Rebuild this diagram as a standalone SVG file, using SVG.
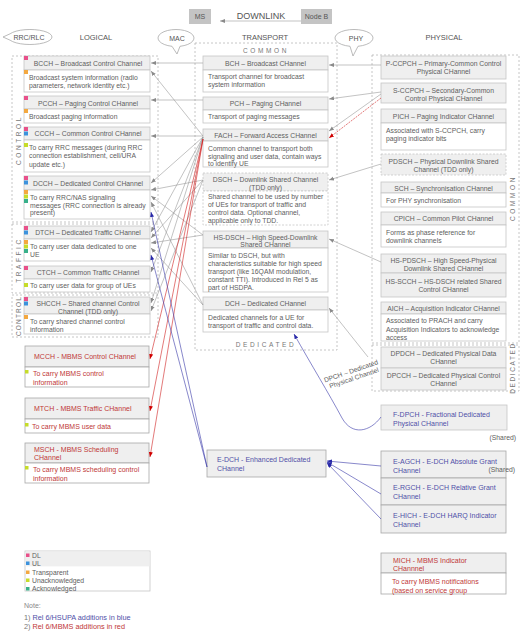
<svg xmlns="http://www.w3.org/2000/svg" width="524" height="640" viewBox="0 0 524 640">
<defs>
<style>
.t{font-family:"Liberation Sans",Arial,sans-serif;font-size:6.8px;fill:#606060}
.m{text-anchor:middle}
.e{text-anchor:end}
.ti{font-size:7.5px;fill:#555}
.hd{fill:#efefef;stroke:#c6c6c6;stroke-width:0.8}
.bd{fill:#fff;stroke:#c6c6c6;stroke-width:0.8}
.hm{fill:#efefef;stroke:#a8a8a8;stroke-width:0.8}
.bm{fill:#fff;stroke:#a8a8a8;stroke-width:0.8}
.dsh{stroke-dasharray:2 1.5}
.grp{fill:none;stroke:#b8b8b8;stroke-width:0.8;stroke-dasharray:2 2}
.vl{font-family:"Liberation Sans",Arial,sans-serif;font-size:6.5px;fill:#777;letter-spacing:2.6px;text-anchor:middle}
.bl{fill:#5050a8;font-size:7px}
.rd{fill:#c03838;font-size:7px}
.cg{fill:none;stroke:#9a9a9a;stroke-width:0.6;marker-end:url(#ag)}
.cr{fill:none;stroke:#d02020;stroke-width:0.6;marker-end:url(#ar)}
.cb{fill:none;stroke:#3838a8;stroke-width:0.6;marker-end:url(#ab)}
.bub{fill:#fff;stroke:#aaa;stroke-width:0.8}
.dl{fill:#e8508a}.ul{fill:#3c92dc}.tr{fill:#f3a840}.un{fill:#c6dc2a}.ak{fill:#38b08a}
</style>
<marker id="ag" markerUnits="userSpaceOnUse" markerWidth="6" markerHeight="5" refX="5" refY="2" orient="auto"><path d="M0,0 L5,2 L0,4 z" fill="#8a8a8a"/></marker>
<marker id="ar" markerUnits="userSpaceOnUse" markerWidth="6" markerHeight="5" refX="5" refY="2" orient="auto"><path d="M0,0 L5,2 L0,4 z" fill="#d00000"/></marker>
<marker id="ab" markerUnits="userSpaceOnUse" markerWidth="6" markerHeight="5" refX="5" refY="2" orient="auto"><path d="M0,0 L5,2 L0,4 z" fill="#2828a8"/></marker>
</defs>
<rect width="524" height="640" fill="#fff"/>

<g id="header">
<rect x="189" y="9" width="22" height="15" fill="#c4c4c4"/>
<text class="t m" x="200" y="19" style="font-size:7px;fill:#555">MS</text>
<rect x="301" y="9" width="31" height="15" fill="#c4c4c4"/>
<text class="t m" x="316.5" y="19" style="font-size:7px;fill:#555">Node B</text>
<text class="t m" x="261" y="19" style="font-size:9px;fill:#555">DOWNLINK</text>
<line x1="301" y1="21" x2="220" y2="21" class="cg"/>
<text class="t ti m" x="96" y="40">LOGICAL</text>
<text class="t ti m" x="265" y="40">TRANSPORT</text>
<text class="t ti m" x="444" y="40">PHYSICAL</text>
</g>

<g id="bubbles">
<path class="bub" d="M10.1,33.8 A22,7.5 0 1 1 10.1,40.2 L3,37 Z"/>
<text class="t m" x="29" y="39.5" style="font-size:7px;fill:#555">RRC/RLC</text>
<path class="bub" d="M180,46.3 A18,8.5 0 1 0 172,46.3 L177,54 Z"/>
<text class="t m" x="177" y="40.5" style="font-size:7px;fill:#555">MAC</text>
<path class="bub" d="M358,46.3 A19,8.5 0 1 0 350,46.3 L353,56 Z"/>
<text class="t m" x="356" y="40.5" style="font-size:7px;fill:#555">PHY</text>
</g>

<g id="groups">
<rect class="grp" x="12" y="56" width="146" height="166"/>
<rect class="grp" x="12" y="224" width="146" height="69"/>
<rect class="grp" x="12" y="295" width="146" height="42"/>
<text class="vl" transform="translate(21,140) rotate(-90)">CONTROL</text>
<text class="vl" transform="translate(21,260) rotate(-90)">TRAFFIC</text>
<text class="vl" style="letter-spacing:1.2px" transform="translate(21,316) rotate(-90)">CONTROL</text>
<rect class="grp" x="195" y="43" width="142" height="307"/>
<text class="vl" x="266" y="52.5">COMMON</text>
<text class="vl" x="266" y="347">DEDICATED</text>
<rect class="grp" x="372" y="55" width="147" height="288"/>
<rect class="grp" x="372" y="345" width="147" height="46"/>
<text class="vl" transform="translate(514.5,198) rotate(-90)">COMMON</text>
<text class="vl" style="letter-spacing:1.6px" transform="translate(514.5,368) rotate(-90)">DEDICATED</text>
</g>

<g id="bcch">
<rect class="hd" x="24" y="56" width="126" height="14"/><rect class="bd" x="24" y="70" width="126" height="22"/>
<rect class="dl" x="24" y="56" width="4" height="4"/><rect class="tr" x="24" y="70" width="4" height="4"/>
<text class="t m" x="88" y="65.5">BCCH – Broadcast Control Channel</text>
<text class="t" x="29" y="79.5">Broadcast system information (radio</text>
<text class="t" x="29" y="87.5">parameters, network identity etc.)</text>
</g>
<g id="pcch">
<rect class="hd" x="24" y="96" width="126" height="13"/><rect class="bd" x="24" y="109" width="126" height="14"/>
<rect class="dl" x="24" y="96" width="4" height="4"/><rect class="tr" x="24" y="109" width="4" height="4"/>
<text class="t m" x="88" y="105.5">PCCH – Paging Control CHannel</text>
<text class="t" x="29" y="118.5">Broadcast paging information</text>
</g>
<g id="ccch">
<rect class="hd" x="24" y="127" width="126" height="13"/><rect class="bd" x="24" y="140" width="126" height="32"/>
<rect class="dl" x="24" y="127" width="4" height="4"/><rect class="ul" x="24" y="131.5" width="4" height="4"/><rect class="un" x="24" y="143" width="4" height="4"/>
<text class="t m" x="88" y="136">CCCH – Common Control CHannel</text>
<text class="t" x="29" y="149.5">To carry RRC  messages (during RRC</text>
<text class="t" x="29" y="158">connection establishment, cell/URA</text>
<text class="t" x="29" y="166.5">update etc.)</text>
</g>
<g id="dcch">
<rect class="hd" x="24" y="176" width="126" height="14"/><rect class="bd" x="24" y="190" width="126" height="29"/>
<rect class="dl" x="24" y="176" width="4" height="4"/><rect class="ul" x="24" y="180.5" width="4" height="4"/>
<rect class="tr" x="24" y="190" width="4" height="4"/><rect class="un" x="24" y="194.5" width="4" height="4"/><rect class="ak" x="24" y="199" width="4" height="4"/>
<text class="t m" x="88" y="185.5">DCCH – Dedicated Control CHannel</text>
<text class="t" x="30" y="199.5">To carry RRC/NAS  signaling</text>
<text class="t" x="30" y="207.5">messages (RRC connection is already</text>
<text class="t" x="30" y="215">present)</text>
</g>
<g id="dtch">
<rect class="hd" x="24" y="226" width="126" height="13"/><rect class="bd" x="24" y="239" width="126" height="22"/>
<rect class="dl" x="24" y="226" width="4" height="4"/><rect class="ul" x="24" y="230.5" width="4" height="4"/>
<rect class="tr" x="24" y="240" width="4" height="4"/><rect class="un" x="24" y="244.5" width="4" height="4"/><rect class="ak" x="24" y="249" width="4" height="4"/>
<text class="t m" x="88" y="235">DTCH – Dedicated Traffic CHannel</text>
<text class="t" x="30" y="248.5">To carry user data dedicated to one</text>
<text class="t" x="30" y="256.5">UE</text>
</g>
<g id="ctch">
<rect class="hd" x="24" y="266" width="126" height="13"/><rect class="bd" x="24" y="279" width="126" height="13"/>
<rect class="dl" x="24" y="266" width="4" height="4"/><rect class="un" x="24" y="283" width="4" height="4"/>
<text class="t m" x="88" y="275">CTCH – Common Traffic CHannel</text>
<text class="t" x="30" y="288">To carry user data for group of UEs</text>
</g>
<g id="shcch">
<rect class="hd" x="24" y="297" width="126" height="17"/><rect class="bd" x="24" y="314" width="126" height="20"/>
<rect class="dl" x="24" y="297" width="4" height="4"/><rect class="ul" x="24" y="301.5" width="4" height="4"/><rect class="tr" x="24" y="315" width="4" height="4"/>
<text class="t m" x="88" y="305.5">SHCCH – Shared channel Control</text>
<text class="t m" x="88" y="313.5">Channel (TDD only)</text>
<text class="t" x="30" y="323.5">To carry shared channel control</text>
<text class="t" x="30" y="331.5">information</text>
</g>
<g id="mcch">
<rect class="hm" x="25" y="346" width="124" height="21"/><rect class="bm" x="25" y="367" width="124" height="20"/>
<rect class="un" x="25" y="370" width="3.5" height="3.5"/>
<text class="t rd" x="34" y="358.5">MCCH - MBMS Control CHannel</text>
<text class="t rd" x="33" y="375.5">To carry MBMS control</text>
<text class="t rd" x="33" y="384.5">information</text>
</g>
<g id="mtch">
<rect class="hm" x="25" y="398" width="124" height="21"/><rect class="bm" x="25" y="419" width="124" height="14"/>
<rect class="un" x="25" y="423" width="3.5" height="3.5"/>
<text class="t rd" x="34" y="410.5">MTCH - MBMS Traffic CHannel</text>
<text class="t rd" x="32" y="429">To carry MBMS user data</text>
</g>
<g id="msch">
<rect class="hm" x="25" y="443" width="124" height="20"/><rect class="bm" x="25" y="463" width="124" height="20"/>
<rect class="un" x="25" y="466" width="3.5" height="3.5"/>
<text class="t rd" x="34" y="451.5">MSCH - MBMS Scheduling</text>
<text class="t rd" x="34" y="459.5">CHannel</text>
<text class="t rd" x="33" y="471.5">To carry MBMS scheduling control</text>
<text class="t rd" x="33" y="480.5">information</text>
</g>

<g id="bch">
<rect class="hd" x="203" y="56" width="125" height="14"/><rect class="bd" x="203" y="70" width="125" height="22"/>
<text class="t m" x="265.5" y="65.5">BCH – Broadcast CHannel</text>
<text class="t" x="208" y="78.5">Transport channel for broadcast</text>
<text class="t" x="208" y="87">system information</text>
</g>
<g id="pch">
<rect class="hd" x="203" y="97" width="125" height="13"/><rect class="bd" x="203" y="110" width="125" height="13"/>
<text class="t m" x="265.5" y="106">PCH – Paging CHannel</text>
<text class="t" x="208" y="119">Transport of paging messages</text>
</g>
<g id="fach">
<rect class="hd" x="203" y="129" width="125" height="12"/><rect class="bd" x="203" y="141" width="125" height="26"/>
<text class="t m" x="265.5" y="137.5">FACH – Forward Access CHannel</text>
<text class="t" x="208" y="150.5">Common channel to transport both</text>
<text class="t" x="208" y="158.5">signaling and user data, contain ways</text>
<text class="t" x="208" y="166">to identify UE</text>
</g>
<g id="dsch">
<rect class="hd dsh" x="203" y="173" width="125" height="18"/><rect class="bd dsh" x="203" y="191" width="125" height="34"/>
<text class="t m" x="265.5" y="181.5">DSCH – Downlink Shared Channel</text>
<text class="t m" x="265.5" y="189.5">(TDD only)</text>
<text class="t" x="208" y="199">Shared channel to be used by number</text>
<text class="t" x="208" y="207">of UEs for transport of traffic and</text>
<text class="t" x="208" y="215">control data. Optional channel,</text>
<text class="t" x="208" y="223">applicable only to TDD.</text>
</g>
<g id="hsdsch">
<rect class="hd" x="203" y="231" width="125" height="17"/><rect class="bd" x="203" y="248" width="125" height="44"/>
<text class="t m" x="265.5" y="239.5">HS-DSCH – High Speed-Downlink</text>
<text class="t m" x="265.5" y="247">Shared CHannel</text>
<text class="t" x="208" y="257.5">Similar to DSCH, but with</text>
<text class="t" x="208" y="265.5">characteristics suitable for high speed</text>
<text class="t" x="208" y="273.5">transport (like 16QAM modulation,</text>
<text class="t" x="208" y="281.5">constant TTI). Introduced in Rel 5 as</text>
<text class="t" x="208" y="289.5">part of HSDPA.</text>
</g>
<g id="dch">
<rect class="hd" x="203" y="297" width="125" height="13"/><rect class="bd" x="203" y="310" width="125" height="22"/>
<text class="t m" x="265.5" y="306">DCH – Dedicated CHannel</text>
<text class="t" x="208" y="319.5">Dedicated channels for a UE for</text>
<text class="t" x="208" y="327.5">transport of traffic and control data.</text>
</g>
<g id="edch">
<rect class="hm" x="207" y="450" width="119" height="27"/>
<text class="t bl" x="217" y="461.5">E-DCH - Enhanced Dedicated</text>
<text class="t bl" x="217" y="470.5">CHannel</text>
</g>

<g id="pccpch">
<rect class="hd" x="381" y="56" width="125" height="23"/>
<text class="t m" x="443.5" y="65.5">P-CCPCH – Primary-Common Control</text>
<text class="t m" x="443.5" y="73.5">Physical CHannel</text>
</g>
<g id="sccpch">
<rect class="hd" x="381" y="83" width="125" height="20"/>
<text class="t m" x="443.5" y="92.5">S-CCPCH – Secondary-Common</text>
<text class="t m" x="443.5" y="100.5">Control Physical CHannel</text>
</g>
<g id="pich">
<rect class="hd" x="381" y="109" width="125" height="14"/><rect class="bd" x="381" y="123" width="125" height="27"/>
<text class="t m" x="443.5" y="118.5">PICH – Paging Indicator CHannel</text>
<text class="t" x="386" y="132.5">Associated with S-CCPCH, carry</text>
<text class="t" x="386" y="140.5">paging indicator bits</text>
</g>
<g id="pdsch">
<rect class="hd dsh" x="381" y="154" width="125" height="21"/>
<text class="t m" x="443.5" y="163.5">PDSCH – Physical Downlink Shared</text>
<text class="t m" x="443.5" y="171.5">Channel (TDD only)</text>
</g>
<g id="sch">
<rect class="hd" x="381" y="182" width="125" height="11"/><rect class="bd" x="381" y="193" width="125" height="14"/>
<text class="t m" x="443.5" y="190.5">SCH – Synchronisation CHannel</text>
<text class="t" x="386" y="203">For PHY synchronisation</text>
</g>
<g id="cpich">
<rect class="hd" x="381" y="212" width="125" height="13"/><rect class="bd" x="381" y="225" width="125" height="22"/>
<text class="t m" x="443.5" y="221">CPICH – Common Pilot CHannel</text>
<text class="t" x="386" y="234.5">Forms as phase reference for</text>
<text class="t" x="386" y="243">downlink channels</text>
</g>
<g id="hspdsch">
<rect class="hd" x="381" y="254" width="125" height="19"/>
<text class="t m" x="443.5" y="262.5">HS-PDSCH – High Speed-Physical</text>
<text class="t m" x="443.5" y="270.5">Downlink Shared CHannel</text>
</g>
<g id="hsscch">
<rect class="hd" x="381" y="273" width="125" height="24"/>
<text class="t m" x="443.5" y="283.5">HS-SCCH – HS-DSCH related Shared</text>
<text class="t m" x="443.5" y="292">Control CHannel</text>
</g>
<g id="aich">
<rect class="hd" x="381" y="302" width="125" height="12"/><rect class="bd" x="381" y="314" width="125" height="27"/>
<text class="t m" x="443.5" y="310.5">AICH – Acquisition Indicator CHannel</text>
<text class="t" x="386" y="323">Associated to PRACH and carry</text>
<text class="t" x="386" y="331.5">Acquisition Indicators to acknowledge</text>
<text class="t" x="386" y="339.5">access</text>
</g>
<g id="dpdch">
<rect class="hd" x="381" y="347" width="125" height="21"/>
<text class="t m" x="443.5" y="355.5">DPDCH – Dedicated Physical Data</text>
<text class="t m" x="443.5" y="363.5">CHannel</text>
</g>
<g id="dpcch">
<rect class="hd" x="381" y="368" width="125" height="22"/>
<text class="t m" x="443.5" y="377.5">DPCCH – Dedicated Physical Control</text>
<text class="t m" x="443.5" y="385.5">CHannel</text>
</g>
<g id="fdpch">
<rect class="hd" x="381" y="405" width="126" height="25"/>
<text class="t bl" x="393" y="416.5">F-DPCH - Fractional Dedicated</text>
<text class="t bl" x="393" y="425.5">Physical CHannel</text>
<text class="t e" x="516" y="439.5">(Shared)</text>
</g>
<g id="eagch">
<rect class="hm" x="381" y="451" width="125" height="27"/>
<text class="t bl" x="393" y="463.5">E-AGCH - E-DCH Absolute Grant</text>
<text class="t bl" x="393" y="472.5">CHannel</text>
<text class="t e" x="515" y="472">(Shared)</text>
</g>
<g id="ergch">
<rect class="hm" x="381" y="478" width="125" height="27"/>
<text class="t bl" x="393" y="489.5">E-RGCH - E-DCH Relative Grant</text>
<text class="t bl" x="393" y="498.5">CHannel</text>
</g>
<g id="ehich">
<rect class="hm" x="381" y="505" width="125" height="28"/>
<text class="t bl" x="393" y="517.5">E-HICH - E-DCH HARQ Indicator</text>
<text class="t bl" x="393" y="526.5">CHannel</text>
</g>
<g id="mich">
<rect class="hm" x="381" y="553" width="125" height="20"/><rect class="bm" x="381" y="573" width="125" height="21"/>
<text class="t rd" x="393" y="562.5">MICH - MBMS Indicator</text>
<text class="t rd" x="393" y="571">CHannnel</text>
<text class="t rd" x="392" y="583.5">To carry MBMS notifications</text>
<text class="t rd" x="392" y="592.5">(based on service group</text>
</g>

<g id="connectors">
<line class="cg" x1="203" y1="63" x2="151" y2="63"/>
<line class="cg" x1="203" y1="136" x2="151" y2="71"/>
<line class="cg" x1="203" y1="100" x2="151" y2="100"/>
<line class="cg" x1="203" y1="136" x2="151" y2="136"/>
<line class="cg" x1="203" y1="137" x2="151" y2="183"/>
<line class="cg" x1="203" y1="180" x2="151" y2="190"/>
<line class="cg" x1="203" y1="235" x2="151" y2="196"/>
<line class="cg" x1="203" y1="305" x2="151" y2="202"/>
<line class="cg" x1="203" y1="137" x2="151" y2="232"/>
<line class="cg" x1="203" y1="180" x2="151" y2="238"/>
<line class="cg" x1="203" y1="235" x2="151" y2="243"/>
<line class="cg" x1="203" y1="305" x2="151" y2="248"/>
<line class="cg" x1="203" y1="137" x2="151" y2="272"/>
<line class="cg" x1="203" y1="137" x2="151" y2="303"/>
<line class="cg" x1="203" y1="180" x2="151" y2="311"/>
<line class="cr" x1="203" y1="139" x2="150" y2="359"/>
<line class="cr" x1="203" y1="139" x2="150" y2="411"/>
<line class="cr" x1="203" y1="139" x2="150" y2="457"/>
<line class="cb" x1="207" y1="467" x2="151" y2="212"/>
<line class="cb" x1="207" y1="467" x2="151" y2="255"/>
<line class="cg" x1="381" y1="65" x2="329" y2="65"/>
<line class="cg" x1="381" y1="92" x2="329" y2="99"/>
<line class="cg" x1="381" y1="94" x2="329" y2="131"/>
<line class="cr" x1="381" y1="98" x2="329" y2="138" style="stroke-dasharray:2 1"/>
<line class="cg" x1="381" y1="164" x2="329" y2="180"/>
<line class="cg" x1="381" y1="262" x2="329" y2="239"/>
<line class="cg" x1="368" y1="357" x2="329" y2="308"/>
<path class="cb" d="M381,417 C370,432 352,436 342,418 C328,392 312,366 294,334"/>
<line class="cb" x1="381" y1="466" x2="327" y2="461"/>
<line class="cb" x1="381" y1="494" x2="327" y2="462"/>
<line class="cb" x1="381" y1="519" x2="327" y2="463"/>
<text class="t" style="font-size:6.7px" transform="translate(325,382.5) rotate(-19)"><tspan x="0" y="0">DPCH – Dedicated</tspan><tspan x="3" y="7.5">Physical Channel</tspan></text>
</g>

<g id="legend">
<rect class="bd" x="25" y="551" width="125" height="40"/>
<rect x="25.4" y="551.4" width="124.2" height="15" fill="#efefef"/>
<rect class="dl" x="26" y="553.5" width="3.5" height="3.5"/><text class="t" x="32" y="557.5">DL</text>
<rect class="ul" x="26" y="561.5" width="3.5" height="3.5"/><text class="t" x="32" y="565.5">UL</text>
<rect class="tr" x="26" y="570.5" width="3.5" height="3.5"/><text class="t" x="32" y="574.5">Transparent</text>
<rect class="un" x="26" y="578.5" width="3.5" height="3.5"/><text class="t" x="32" y="582.5">Unacknowledged</text>
<rect class="ak" x="26" y="587" width="3.5" height="3.5"/><text class="t" x="32" y="591">Acknowledged</text>
<text class="t" x="24" y="607.5" style="font-size:7px;fill:#888">Note:</text>
<text class="t" x="24" y="619.5" style="font-size:7.3px"><tspan fill="#777">1) </tspan><tspan fill="#5050a8">Rel 6/HSUPA additions in blue</tspan></text>
<text class="t" x="24" y="628.5" style="font-size:7.3px"><tspan fill="#777">2) </tspan><tspan fill="#c03838">Rel 6/MBMS additions in red</tspan></text>
</g>
</svg>
